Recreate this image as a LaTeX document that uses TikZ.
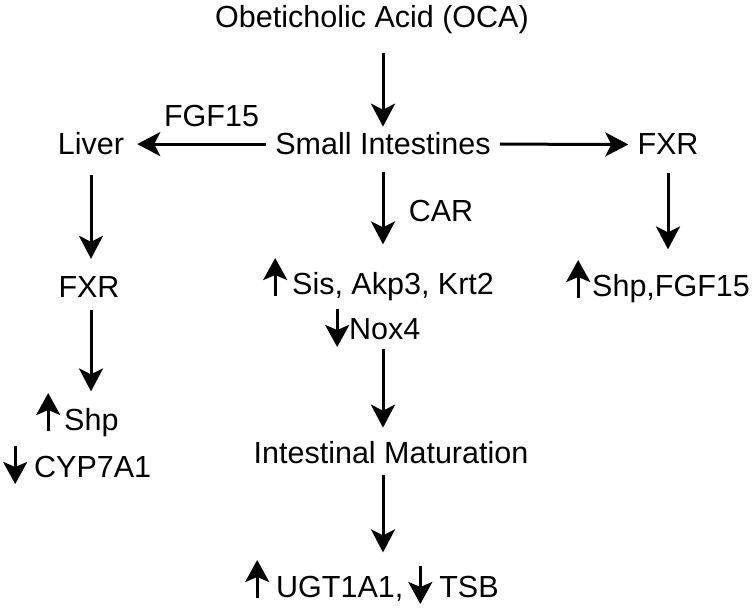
\documentclass[tikz,border=0pt]{standalone}
\usepackage{fontspec}
\setmainfont{Liberation Sans}
\usetikzlibrary{arrows.meta}
\tikzset{
  conn/.style={-{Stealth[length=23pt,width=24pt,inset=6pt]},line width=3pt},
  ind/.style={-{Stealth[length=22pt,width=24pt,inset=5pt]},line width=2.8pt},
  lbl/.style={anchor=base,inner sep=6pt},
  lblw/.style={anchor=base west,inner sep=6pt}
}
% small up/down marks in front of a text
\newcommand{\upind}{\tikz[baseline=0pt]\draw[ind] (0pt,-1pt)--(0pt,37pt);}
\newcommand{\dnind}{\tikz[baseline=0pt]\draw[ind] (0pt,31pt)--(0pt,-7pt);}
\begin{document}
\begin{tikzpicture}[x=1pt, y=-1pt, font=\fontsize{30.5pt}{36pt}\selectfont, line join=round]
	\useasboundingbox (0,0) rectangle (752,609);
	\path
	(372,28) node[lbl] (oca) {Obeticholic Acid (OCA)}
	(211.5,127) node[lbl] (fgf) {FGF15}
	(91,155) node[lbl] (liver) {Liver}
	(383,155) node[lbl] (si) {Small Intestines}
	(668,155) node[lbl] (fxrr) {FXR}
	(441,222) node[lbl] (car) {CAR}
	(89,298) node[lbl] (fxrl) {FXR}
	(391,463) node[lbl] (im) {Intestinal Maturation}

	(257,295) node[lblw] (sis) {\upind\hspace{5pt}Sis, Akp3, Krt2}
	(319,340) node[lblw] (nox) {\dnind Nox4}
	(560,297) node[lblw] (shpr) {\upind\hspace{2pt}Shp,FGF15}
	(30,430) node[lblw] (shpl) {\upind\hspace{4pt}Shp}
	(-3,477) node[lblw] (cyp) {\dnind\hspace{7pt}CYP7A1}
	(239,597) node[lblw] (ugt) {\upind\hspace{7pt}UGT1A1,\hspace{5pt}\dnind\hspace{7pt}TSB};

	\draw[conn, shorten <=12pt] (oca.south -| si) -- (si.north);
	\draw[conn, shorten <=3pt, shorten >=7pt] (si.west) -- (liver.east);
	\draw[conn, shorten <=3pt, shorten >=3pt] (si.east) -- (fxrr.west);
	\draw[conn, shorten <=12pt, shorten >=3pt] (fxrr.south) -- (fxrr.south |- shpr.north);
	\draw[conn, shorten <=11pt, shorten >=6pt] (si.south) -- (si.south |- sis.north);
	\draw[conn, shorten <=-6pt, shorten >=7pt] (nox.south -| si) -- (si |- im.north);
	\draw[conn, shorten <=6pt] (im.south -| si) -- (si |- ugt.north);
	\draw[conn, shorten <=14pt, shorten >=12pt] (liver.south) -- (liver.south |- fxrl.north);
	\draw[conn, shorten <=6pt, shorten >=-6pt] (fxrl.south -| liver) -- (liver |- shpl.north);
\end{tikzpicture}
\end{document}
